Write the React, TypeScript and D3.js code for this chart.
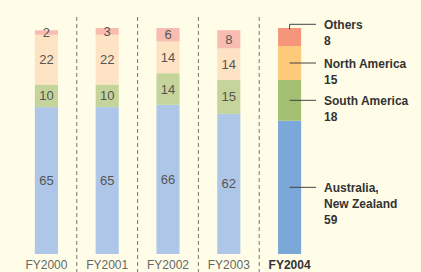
import React, { useRef, useEffect } from 'react';
import * as d3 from 'd3';

const years = ['FY2000', 'FY2001', 'FY2002', 'FY2003', 'FY2004'];
const australia = [65, 65, 66, 62, 59];
const southAmerica = [10, 10, 14, 15, 18];
const northAmerica = [22, 22, 14, 14, 15];
const others = [2, 3, 6, 8, 8];

const regionNames = [['Australia,', 'New Zealand'], ['South America'], ['North America'], ['Others']];
const pastColors = ['#aec6e8', '#c5d49a', '#fde3c4', '#f9bcb0'];
const currentColors = ['#7ba7d9', '#a3bf72', '#fdc97a', '#f5967a'];

const width = 421;
const height = 272;

const App = () => {
  const svgRef = useRef<SVGSVGElement>(null);

  useEffect(() => {
    const svg = d3.select(svgRef.current);
    svg.selectAll('*').remove();

    const rows = years.map((y, i) => ({
      year: y,
      a: australia[i],
      s: southAmerica[i],
      n: northAmerica[i],
      o: others[i],
    }));
    const keys = ['a', 's', 'n', 'o'];
    const stack = d3.stack<any>().keys(keys)(rows);

    const x = d3.scaleBand().domain(years).range([16, 320]).paddingInner(0.62).paddingOuter(0.31);
    const y = d3.scaleLinear().domain([0, 100]).range([254, 28]);

    svg.append('rect').attr('width', width).attr('height', height).attr('fill', '#fffde8');

    // dashed separators
    const step = x.step();
    svg.selectAll('line.sep')
      .data(years.slice(1))
      .enter().append('line')
      .attr('x1', d => x(d)! - (step - x.bandwidth()) / 2)
      .attr('x2', d => x(d)! - (step - x.bandwidth()) / 2)
      .attr('y1', 17)
      .attr('y2', height)
      .attr('stroke', '#777')
      .attr('stroke-width', 1)
      .attr('stroke-dasharray', '4,3');

    stack.forEach((layer, li) => {
      svg.selectAll(`rect.l${li}`)
        .data(layer)
        .enter().append('rect')
        .attr('x', d => x(d.data.year)!)
        .attr('width', x.bandwidth())
        .attr('y', d => y(d[1]))
        .attr('height', d => y(d[0]) - y(d[1]))
        .attr('fill', (d, i) => (i === years.length - 1 ? currentColors[li] : pastColors[li]));

      svg.selectAll(`text.l${li}`)
        .data(layer.slice(0, years.length - 1))
        .enter().append('text')
        .attr('x', d => x(d.data.year)! + x.bandwidth() / 2)
        .attr('y', d => (y(d[0]) + y(d[1])) / 2 + 4.5)
        .attr('text-anchor', 'middle')
        .attr('font-family', 'Liberation Sans, Arial, sans-serif')
        .attr('font-size', 13)
        .attr('fill', '#555')
        .text(d => d[1] - d[0]);
    });

    // category labels
    svg.selectAll('text.cat')
      .data(years)
      .enter().append('text')
      .attr('x', d => x(d)! + x.bandwidth() / 2)
      .attr('y', 268.5)
      .attr('text-anchor', 'middle')
      .attr('font-family', 'Liberation Sans, Arial, sans-serif')
      .attr('font-size', 12)
      .attr('font-weight', (d, i) => (i === years.length - 1 ? 'bold' : 'normal'))
      .attr('fill', (d, i) => (i === years.length - 1 ? '#333' : '#666'))
      .text(d => d);

    // annotations for last bar
    const last = years[years.length - 1];
    const cx = x(last)! + x.bandwidth() / 2;
    const tx = 324;
    stack.forEach((layer, li) => {
      const d = layer[years.length - 1];
      const mid = (y(d[0]) + y(d[1])) / 2;
      const isTop = li === stack.length - 1;
      const ly = isTop ? y(d[1]) - 3.7 : mid;
      if (isTop) {
        svg.append('path')
          .attr('d', `M${cx},${y(d[1]) + 1.5}V${ly}H${tx - 8}`)
          .attr('fill', 'none')
          .attr('stroke', '#444')
          .attr('stroke-width', 1);
      } else {
        svg.append('line')
          .attr('x1', cx).attr('x2', tx - 8)
          .attr('y1', ly).attr('y2', ly)
          .attr('stroke', '#444')
          .attr('stroke-width', 1);
      }
      const lines = [...regionNames[li], String(d[1] - d[0])];
      const t = svg.append('text')
        .attr('font-family', 'Liberation Sans, Arial, sans-serif')
        .attr('font-size', 12)
        .attr('font-weight', 'bold')
        .attr('fill', '#333');
      lines.forEach((s, k) => {
        t.append('tspan')
          .attr('x', tx)
          .attr('y', ly + 4.5 + k * 16)
          .text(s);
      });
    });
  }, []);

  return (
    <svg ref={svgRef} width={width} height={height} style={{ position: 'absolute', left: 0, top: 0 }} />
  );
};

export default App;
